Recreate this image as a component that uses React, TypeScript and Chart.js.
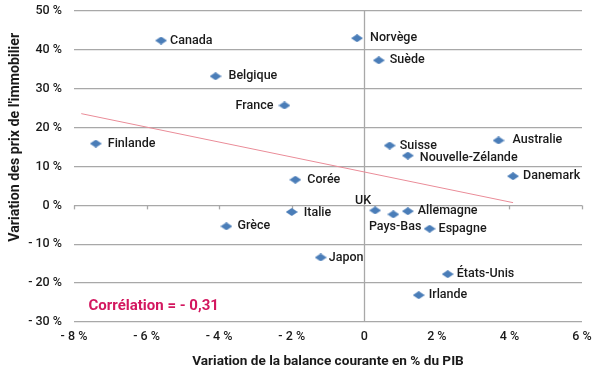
import { useEffect, useRef } from 'react';
import { Chart, registerables } from 'chart.js';

Chart.register(...registerables);

// ---- Data ----
const countries = [
  'Canada', 'Belgique', 'France', 'Finlande', 'Norvège', 'Suède', 'Suisse',
  'Nouvelle-Zélande', 'Australie', 'Danemark', 'Corée', 'Italie', 'Grèce',
  'UK', 'Pays-Bas', 'Allemagne', 'Espagne', 'Japon', 'États-Unis', 'Irlande',
];
// Variation de la balance courante (% du PIB)
const balanceValues = [
  -5.6, -4.1, -2.2, -7.4, -0.2, 0.4, 0.7,
  1.2, 3.7, 4.1, -1.9, -2.0, -3.8,
  0.3, 0.8, 1.2, 1.8, -1.2, 2.3, 1.5,
];
// Variation des prix de l'immobilier (%)
const priceValues = [
  42.4, 33.2, 25.7, 15.9, 43.0, 37.3, 15.4,
  12.8, 16.7, 7.5, 6.6, -1.7, -5.4,
  -1.3, -2.3, -1.5, -6.0, -13.4, -17.7, -23.1,
];
const trendX = [-7.8, 4.1];
const trendY = [23.6, 0.7];
const xTickValues = [-8, -6, -4, -2, 0, 2, 4, 6];
const yTickValues = [-30, -20, -10, 0, 10, 20, 30, 40, 50];
const correlationText = 'Corrélation = - 0,31';
const correlationAt = { x: -7.6, y: -26 };
const xTitle = 'Variation de la balance courante en % du PIB';
const yTitle = "Variation des prix de l'immobilier";

// ---- Label placement (layout only): [dx, dy, align]
const labelPlacement: Record<string, [number, number, CanvasTextAlign]> = {
  'Canada': [9, 0, 'left'],
  'Belgique': [13, 0, 'left'],
  'France': [-11, 0, 'right'],
  'Finlande': [12, 0, 'left'],
  'Norvège': [13, 0, 'left'],
  'Suède': [11, 0, 'left'],
  'Suisse': [10, 0, 'left'],
  'Nouvelle-Zélande': [12, 2, 'left'],
  'Australie': [14, -1, 'left'],
  'Danemark': [10, 0, 'left'],
  'Corée': [12, 0, 'left'],
  'Italie': [12, 1, 'left'],
  'Grèce': [11, 0, 'left'],
  'UK': [-4, -10, 'right'],
  'Pays-Bas': [28, 13, 'right'],
  'Allemagne': [10, 0, 'left'],
  'Espagne': [9, 0, 'left'],
  'Japon': [8, 0, 'left'],
  'États-Unis': [9, 0, 'left'],
  'Irlande': [10, 0, 'left'],
};

const TEXT = '#1a1a1a';
const GRID = '#a8a8a8';
const MARKER = '#4a7db8';
const FONT = 'Roboto';

function fmtX(v: number) {
  if (v === 0) return '0';
  return v < 0 ? `- ${Math.abs(v)} %` : `${v} %`;
}
function fmtY(v: number) {
  return v < 0 ? `- ${Math.abs(v)} %` : `${v} %`;
}

function makeDiamond() {
  const c = document.createElement('canvas');
  c.width = 12;
  c.height = 8;
  const g = c.getContext('2d')!;
  g.fillStyle = MARKER;
  g.beginPath();
  g.moveTo(0, 4);
  g.lineTo(6, 0);
  g.lineTo(12, 4);
  g.lineTo(6, 8);
  g.closePath();
  g.fill();
  return c;
}

const decorPlugin = {
  id: 'decor',
  beforeDatasetsDraw(chart: any) {
    const { ctx, chartArea, scales } = chart;
    const xs = scales.x;
    const ys = scales.y;
    ctx.save();
    ctx.strokeStyle = GRID;
    ctx.lineWidth = 1.3;
    // vertical axis at x = 0
    const x0 = Math.round(xs.getPixelForValue(0)) + 0.5;
    ctx.beginPath();
    ctx.moveTo(x0, chartArea.top);
    ctx.lineTo(x0, chartArea.bottom);
    ctx.stroke();
    // tick marks on horizontal axis at y = 0
    const y0 = ys.getPixelForValue(0);
    xTickValues.forEach((v) => {
      const px = Math.round(xs.getPixelForValue(v)) + 0.5;
      ctx.beginPath();
      ctx.moveTo(px, y0);
      ctx.lineTo(px, y0 + 4);
      ctx.stroke();
    });
    ctx.restore();
  },
  afterDatasetsDraw(chart: any) {
    const { ctx, scales } = chart;
    const meta = chart.getDatasetMeta(0);
    ctx.save();
    ctx.fillStyle = TEXT;
    ctx.font = `500 12.5px ${FONT}`;
    ctx.textBaseline = 'middle';
    meta.data.forEach((pt: any, i: number) => {
      const name = countries[i];
      const [dx, dy, align] = labelPlacement[name] || [10, 0, 'left'];
      ctx.textAlign = align;
      ctx.fillText(name, pt.x + dx, pt.y + dy);
    });
    // correlation annotation
    ctx.fillStyle = '#d3175f';
    ctx.font = `bold 15px ${FONT}`;
    ctx.textAlign = 'left';
    ctx.fillText(
      correlationText,
      scales.x.getPixelForValue(correlationAt.x),
      scales.y.getPixelForValue(correlationAt.y),
    );
    // y axis title
    ctx.fillStyle = TEXT;
    ctx.font = `bold 14.2px ${FONT}`;
    ctx.textAlign = 'center';
    ctx.translate(15, scales.y.getPixelForValue(17.5));
    ctx.rotate(-Math.PI / 2);
    ctx.fillText(yTitle, 0, 0);
    ctx.restore();
  },
};

export default function App() {
  const ref = useRef<HTMLCanvasElement | null>(null);
  useEffect(() => {
    if (!ref.current) return;
    const diamond = makeDiamond();
    const chart = new Chart(ref.current, {
      type: 'scatter',
      data: {
        datasets: [
          {
            label: 'Pays',
            data: countries.map((_, i) => ({ x: balanceValues[i], y: priceValues[i] })),
            pointStyle: diamond as any,
            pointRadius: 6,
            pointHoverRadius: 6,
            backgroundColor: MARKER,
            borderColor: MARKER,
            order: 1,
          },
          {
            label: 'Tendance',
            type: 'line',
            data: trendX.map((x, i) => ({ x, y: trendY[i] })),
            borderColor: '#ea8c98',
            borderWidth: 1,
            pointRadius: 0,
            showLine: true,
            fill: false,
            order: 2,
          } as any,
        ],
      },
      options: {
        responsive: false,
        animation: false,
        events: [],
        layout: { padding: { top: 11, right: 18, left: 0, bottom: 0 } },
        plugins: {
          legend: { display: false },
          tooltip: { enabled: false },
          title: { display: false },
        },
        scales: {
          x: {
            type: 'linear',
            min: -8,
            max: 6,
            afterBuildTicks: (s: any) => {
              s.ticks = xTickValues.map((v) => ({ value: v }));
            },
            afterFit: (s: any) => {
              s.height = 52;
              s.paddingLeft = 0;
              s.paddingRight = 0;
            },
            grid: { display: false, drawTicks: false },
            border: { display: false },
            ticks: {
              padding: 7,
              color: TEXT,
              font: { family: FONT, size: 12.5, weight: 500 as any },
              callback: (v: any) => fmtX(Number(v)),
            },
            title: {
              display: true,
              text: xTitle,
              color: TEXT,
              font: { family: FONT, size: 13.6, weight: 'bold' },
              padding: { top: 0, bottom: 4 },
            },
          },
          y: {
            type: 'linear',
            min: -30,
            max: 50,
            afterBuildTicks: (s: any) => {
              s.ticks = yTickValues.map((v) => ({ value: v }));
            },
            afterFit: (s: any) => {
              s.width = 74;
              s.paddingTop = 0;
              s.paddingBottom = 0;
            },
            grid: { color: GRID, lineWidth: 1.3, drawTicks: false },
            border: { display: false },
            ticks: {
              padding: 12,
              color: TEXT,
              font: { family: FONT, size: 12.5, weight: 500 as any },
              callback: (v: any) => fmtY(Number(v)),
            },
          },
        },
      },
      plugins: [decorPlugin],
    });
    return () => chart.destroy();
  }, []);
  return (
    <div style={{ position: 'absolute', left: 0, top: 0, width: 600, height: 374, background: '#fff' }}>
      <canvas ref={ref} width={600} height={374} />
    </div>
  );
}
